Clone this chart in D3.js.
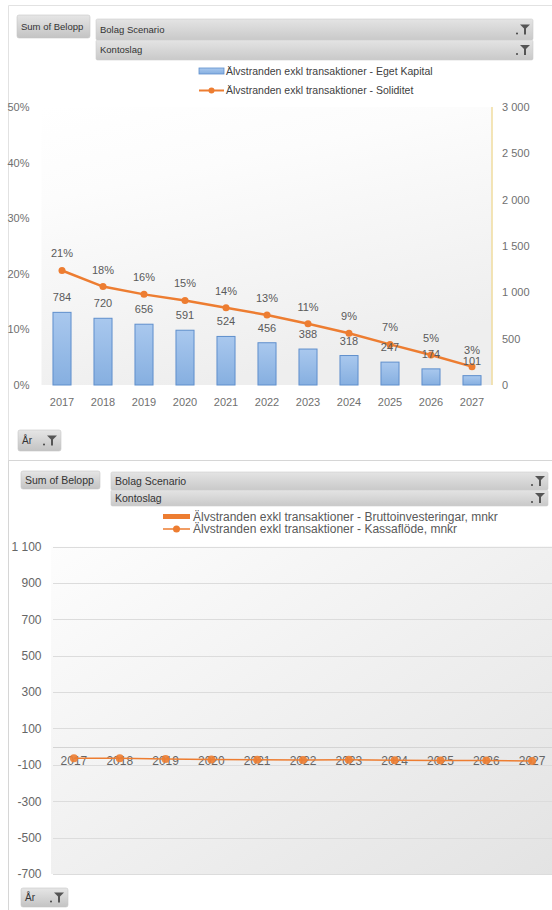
<!DOCTYPE html>
<html><head><meta charset="utf-8">
<script src="https://cdn.jsdelivr.net/npm/d3@7"></script>
<style>
body{margin:0;background:#fff}
svg{display:block;font-family:"Liberation Sans",Arial,sans-serif}
</style>
</head><body>
<svg id="c" width="552" height="910"></svg>
<script>
// ---------- data ----------
const years = ["2017","2018","2019","2020","2021","2022","2023","2024","2025","2026","2027"];
const egetKapital = [784,720,656,591,524,456,388,318,247,174,101];
const soliditet = [0.206,0.177,0.163,0.152,0.139,0.126,0.110,0.093,0.073,0.054,0.033];
const leftTicks = [0,0.1,0.2,0.3,0.4,0.5];
const rightTicks = [0,500,1000,1500,2000,2500,3000];
const topSeries = ["Älvstranden exkl transaktioner - Eget Kapital","Älvstranden exkl transaktioner - Soliditet"];

const bruttoinvesteringar = [0,0,0,0,0,0,0,0,0,0,0];
const kassaflode = [-64,-64,-68,-71,-72,-74,-72,-75,-76,-76,-79];
const bottomTicks = [-700,-500,-300,-100,100,300,500,700,900,1100];
const bottomSeries = ["Älvstranden exkl transaktioner - Bruttoinvesteringar, mnkr","Älvstranden exkl transaktioner - Kassaflöde, mnkr"];

const fieldButtons = ["Sum of Belopp","Bolag Scenario","Kontoslag","År"];

// ---------- setup ----------
const svg = d3.select("#c");
const loc = d3.formatLocale({decimal:",",thousands:" ",grouping:[3],currency:["","kr"],minus:"-"});
const fmtNum = loc.format(",d");
const fmtPct = v => Math.round(v*100) + "%";
const ORANGE = "#ED7D31";
const defs = svg.append("defs");

function lg(id, x2, y2, stops){
  const g = defs.append("linearGradient").attr("id",id)
    .attr("x1",0).attr("y1",0).attr("x2",x2).attr("y2",y2);
  stops.forEach(s=>g.append("stop").attr("offset",s[0]).attr("stop-color",s[1]));
}
lg("btn",0,1,[[0,"#e6e6e6"],[1,"#c3c3c3"]]);
lg("bar",0,1,[[0,"#e4e4e4"],[1,"#c9c9c9"]]);
lg("plotTop",0.35,1,[[0,"#ffffff"],[0.3,"#fcfcfc"],[1,"#eeeeee"]]);
lg("plotBot",1,1,[[0,"#fdfdfd"],[1,"#e3e3e3"]]);
lg("blue",0,1,[[0,"#a9c8ee"],[1,"#86afe0"]]);

function funnel(g, fx, fy){
  g.append("circle").attr("cx",fx-3).attr("cy",fy+9).attr("r",1).attr("fill","#444");
  g.append("path").attr("d",`M${fx},${fy}h10l-4,4v6h-2v-6z`).attr("fill","#555");
}
function button(x,y,w,h,text,fs,withFunnel){
  const g = svg.append("g");
  g.append("rect").attr("x",x).attr("y",y).attr("width",w).attr("height",h).attr("rx",2)
    .attr("fill","url(#btn)").attr("stroke","#c8c8c8").attr("stroke-width",0.6);
  g.append("text").attr("x",x+4).attr("y",y+h/2).attr("dy","0.35em")
    .attr("font-size",fs).attr("fill","#333").text(text);
  if(withFunnel) funnel(g, x+w-14, y+h/2-5);
}
function filterBar(x,y,w,h,text,fs){
  const g = svg.append("g");
  g.append("rect").attr("x",x).attr("y",y).attr("width",w).attr("height",h).attr("rx",1.5)
    .attr("fill","url(#bar)").attr("stroke","#cfcfcf").attr("stroke-width",0.6);
  g.append("text").attr("x",x+4).attr("y",y+h/2).attr("dy","0.35em")
    .attr("font-size",fs).attr("fill","#333").text(text);
  funnel(g, x+w-13, y+h/2-5);
}

// ---------- panel frames ----------
svg.append("path").attr("d","M8.5,560V5.5H560").attr("fill","none").attr("stroke","#e2e2e2");
svg.append("path").attr("d","M8.5,910V460.5H560").attr("fill","none").attr("stroke","#d6d6d6");

// ================= TOP CHART =================
button(17,15,73,23,fieldButtons[0],9.5,false);
filterBar(96,19,437,21,fieldButtons[1],9.5);
filterBar(96,40,437,20,fieldButtons[2],9.5);
button(18,430,43,21,fieldButtons[3],10,true);

const xT = d3.scaleBand().domain(years).range([41.5,492.5]).paddingInner(0.56).paddingOuter(0.28);
const yL = d3.scaleLinear().domain([0,0.5]).range([385,107]);
const yR = d3.scaleLinear().domain([0,3000]).range([385,107]);
const cxT = d => xT(d) + xT.bandwidth()/2;

svg.append("rect").attr("x",41.5).attr("y",107).attr("width",451).attr("height",278).attr("fill","url(#plotTop)");

// right axis line
svg.append("line").attr("x1",492).attr("x2",492).attr("y1",yR(3000)).attr("y2",yR(0))
  .attr("stroke","#f1dd9f").attr("stroke-width",1.5);

// axes
const axL = svg.append("g").attr("transform","translate(29.5,0)")
  .call(d3.axisLeft(yL).tickValues(leftTicks).tickFormat(fmtPct).tickSize(0).tickPadding(0));
const axR = svg.append("g").attr("transform","translate(502,0)")
  .call(d3.axisRight(yR).tickValues(rightTicks).tickFormat(fmtNum).tickSize(0).tickPadding(0));
const axB = svg.append("g").attr("transform","translate(0,385)")
  .call(d3.axisBottom(xT).tickSize(0).tickPadding(13));
[axL,axR,axB].forEach(a=>{
  a.select(".domain").remove();
  a.selectAll("text").attr("font-size",11).attr("fill","#707070").attr("font-family",null);
});

// bars
svg.append("g").selectAll("rect").data(years).join("rect")
  .attr("x",d=>xT(d)).attr("width",xT.bandwidth())
  .attr("y",(d,i)=>yR(egetKapital[i])).attr("height",(d,i)=>yR(0)-yR(egetKapital[i]))
  .attr("fill","url(#blue)").attr("stroke","#5f8fcc").attr("stroke-width",1);

// line
const lineT = d3.line().x((v,i)=>cxT(years[i])).y(v=>yL(v));
svg.append("path").datum(soliditet).attr("d",lineT).attr("fill","none")
  .attr("stroke",ORANGE).attr("stroke-width",2.5);
svg.append("g").selectAll("circle").data(soliditet).join("circle")
  .attr("cx",(v,i)=>cxT(years[i])).attr("cy",v=>yL(v)).attr("r",3.5).attr("fill",ORANGE);

// data labels
svg.append("g").selectAll("text").data(egetKapital).join("text")
  .attr("x",(v,i)=>cxT(years[i])).attr("y",v=>yR(v)-11).attr("text-anchor","middle")
  .attr("font-size",11).attr("fill","#5a5a5a").text(v=>fmtNum(v));
svg.append("g").selectAll("text").data(soliditet).join("text")
  .attr("x",(v,i)=>cxT(years[i])).attr("y",v=>yL(v)-13).attr("text-anchor","middle")
  .attr("font-size",11).attr("fill","#5a5a5a").text(v=>fmtPct(v));

// legend
const lgT = svg.append("g").attr("font-size",10.5).attr("fill","#404040");
lgT.append("rect").attr("x",199).attr("y",68).attr("width",25).attr("height",6)
  .attr("fill","url(#blue)").attr("stroke","#5f8fcc").attr("stroke-width",0.8);
lgT.append("text").attr("x",226).attr("y",71).attr("dy","0.35em").text(topSeries[0]);
lgT.append("line").attr("x1",199).attr("x2",224).attr("y1",90.5).attr("y2",90.5).attr("stroke",ORANGE).attr("stroke-width",2);
lgT.append("circle").attr("cx",211.5).attr("cy",90.5).attr("r",3).attr("fill",ORANGE);
lgT.append("text").attr("x",226).attr("y",90.5).attr("dy","0.35em").text(topSeries[1]);

// ================= BOTTOM CHART =================
button(21,471,79,18,fieldButtons[0],10.5,false);
filterBar(111,472,437,18,fieldButtons[1],10.5);
filterBar(111,490,437,16,fieldButtons[2],10.5);
button(21,888,47,19,fieldButtons[3],10,true);

const xB = d3.scaleBand().domain(years).range([51,555]).paddingInner(0.56).paddingOuter(0.28);
const yB = d3.scaleLinear().domain([-700,1100]).range([874,546.5]);
const cxB = d => xB(d) + xB.bandwidth()/2;

svg.append("rect").attr("x",51).attr("y",546.5).attr("width",504).attr("height",327.5).attr("fill","url(#plotBot)");

// gridlines
svg.append("g").selectAll("line").data(bottomTicks).join("line")
  .attr("x1",53).attr("x2",555).attr("y1",d=>Math.round(yB(d))+0.5).attr("y2",d=>Math.round(yB(d))+0.5)
  .attr("stroke","#dcdcdc");
svg.append("line").attr("x1",53).attr("x2",555).attr("y1",Math.round(yB(0))+0.5).attr("y2",Math.round(yB(0))+0.5)
  .attr("stroke","#d4d4d4");

const axBL = svg.append("g").attr("transform","translate(41.5,0)")
  .call(d3.axisLeft(yB).tickValues(bottomTicks).tickFormat(fmtNum).tickSize(0).tickPadding(0));
const axBB = svg.append("g").attr("transform",`translate(0,${yB(0)})`)
  .call(d3.axisBottom(xB).tickSize(0).tickPadding(10));
[axBL,axBB].forEach(a=>{
  a.select(".domain").remove();
  a.selectAll("text").attr("font-size",12).attr("fill","#666").attr("font-family",null);
});

// bars (Bruttoinvesteringar)
svg.append("g").selectAll("rect").data(bruttoinvesteringar).join("rect")
  .attr("x",(v,i)=>xB(years[i])).attr("width",xB.bandwidth())
  .attr("y",v=>Math.min(yB(v),yB(0))).attr("height",v=>Math.abs(yB(v)-yB(0)))
  .attr("fill",ORANGE);

// line (Kassaflöde)
const lineB = d3.line().x((v,i)=>cxB(years[i])).y(v=>yB(v));
svg.append("path").datum(kassaflode).attr("d",lineB).attr("fill","none")
  .attr("stroke",ORANGE).attr("stroke-width",1.5);
svg.append("g").selectAll("circle").data(kassaflode).join("circle")
  .attr("cx",(v,i)=>cxB(years[i])).attr("cy",v=>yB(v)).attr("r",4).attr("fill",ORANGE).attr("fill-opacity",0.9);

// legend
const lgB = svg.append("g").attr("font-size",12).attr("fill","#595959");
lgB.append("rect").attr("x",163).attr("y",514).attr("width",27).attr("height",5).attr("fill",ORANGE);
lgB.append("text").attr("x",193).attr("y",516.5).attr("dy","0.35em").text(bottomSeries[0]);
lgB.append("line").attr("x1",163).attr("x2",190).attr("y1",529).attr("y2",529).attr("stroke",ORANGE).attr("stroke-width",1.5);
lgB.append("circle").attr("cx",176.5).attr("cy",529).attr("r",3.5).attr("fill",ORANGE);
lgB.append("text").attr("x",193).attr("y",529).attr("dy","0.35em").text(bottomSeries[1]);
</script>
</body></html>
